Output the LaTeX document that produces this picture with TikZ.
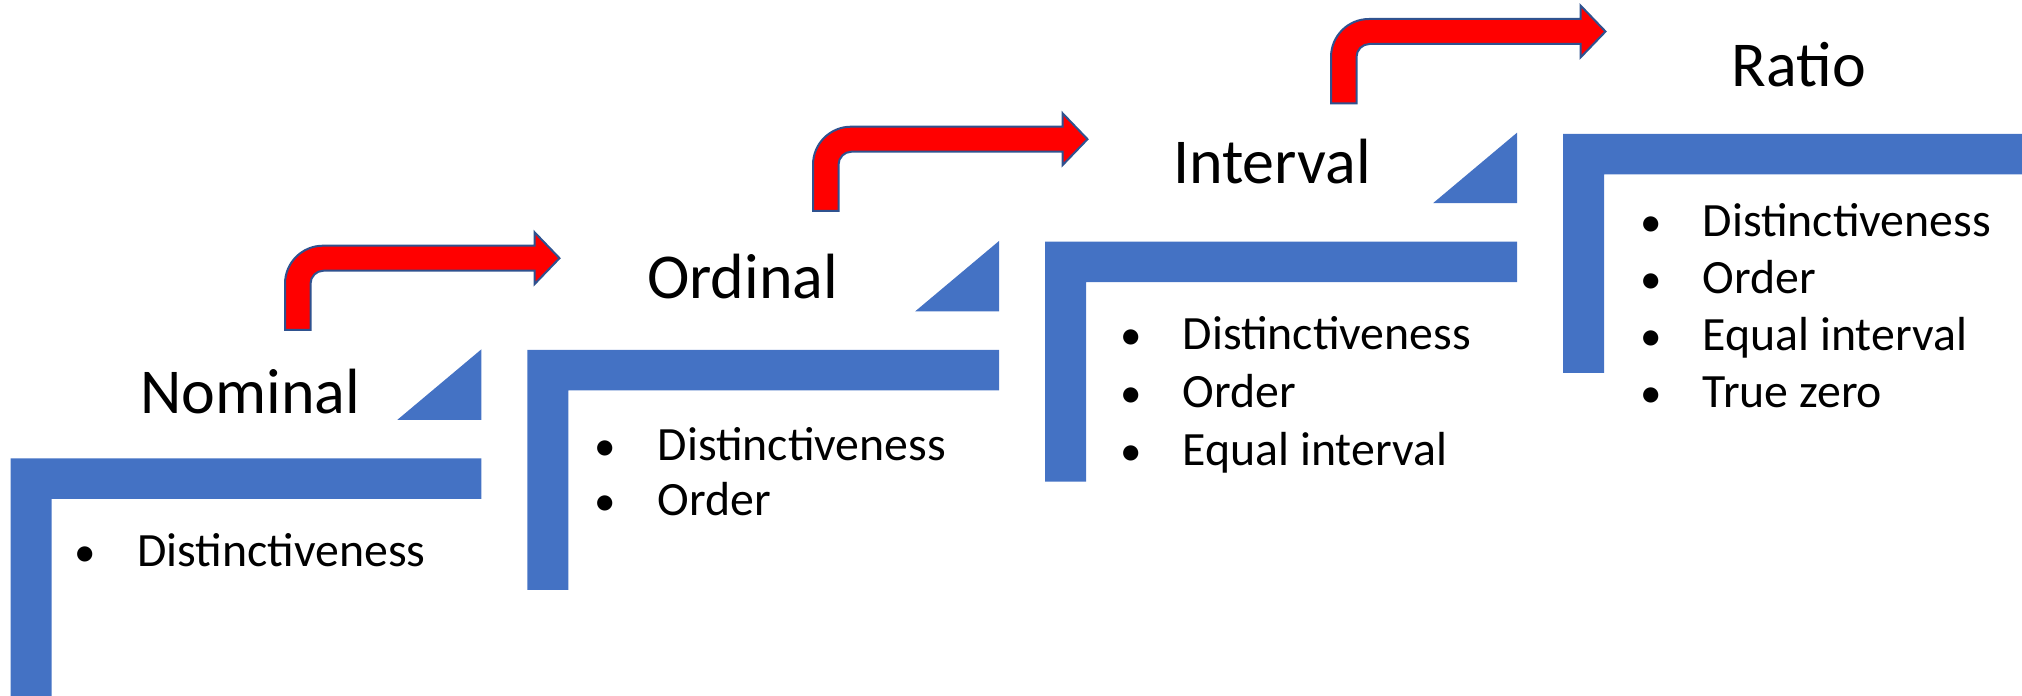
\documentclass[tikz,border=0pt]{standalone}
\usepackage{fontspec}
\setmainfont{Carlito}
\definecolor{stepfill}{HTML}{4472C4}
\definecolor{arrowred}{HTML}{FF0000}
\definecolor{arrowedge}{HTML}{2F528F}
% bullet glyph centred on the node's west edge, followed by the item text
\newcommand{\blt}{\makebox[0pt]{\scalebox{0.9}{•}}\hspace{5.2mm}}
\begin{document}
\begin{tikzpicture}[x=0.1mm, y=-0.1mm,
  stepshape/.style={fill=stepfill, draw=none},
  leveltitle/.style={anchor=base, inner sep=0pt, font=\fontsize{18.2}{22}\selectfont},
  levelitem/.style={anchor=base west, inner sep=0pt, font=\fontsize{13.6}{16}\selectfont},
  arrowbody/.style={fill=arrowred, draw=arrowedge, line width=0.2mm, line join=miter},
  bentarrow/.pic={
    \filldraw[arrowbody] (0,0) -- (0,-46.3)
      arc[start angle=180, end angle=270, radius=38]
      -- (249.5,-84.3) -- (249.5,-97.8) -- (274.5,-71.8) -- (249.5,-45.8)
      -- (249.5,-59.3) -- (38.5,-59.3)
      arc[start angle=270, end angle=180, radius=13]
      -- (25.5,0) -- cycle;
  }]
\useasboundingbox (0,0) rectangle (2022,696);
\clip (0,0) rectangle (2022,696);

% stair steps: an L-shaped bar per level
\foreach \lx/\ty/\rx/\by in {10.7/458.3/481.4/720, 527.3/350/999/590,
                              1045/241.7/1517/481.7, 1563/134/2040/373}{
  \fill[stepshape] (\lx,\ty) -- (\rx,\ty) -- (\rx,\ty+40.5) -- (\lx+41,\ty+40.5)
    -- (\lx+41,\by) -- (\lx,\by) -- cycle;
}
% small wedges at the front edge of the three lower steps
\foreach \ty/\rx in {458.3/481.4, 350/999, 241.7/1517}{
  \fill[stepshape] (\rx,\ty-109) -- (\rx,\ty-38.5) -- (\rx-84,\ty-38.5) -- cycle;
}

% bent arrows leading up to the next level
\pic (arrowA) at (285,330) {bentarrow};
\pic (arrowB) at (813,211) {bentarrow};
\pic (arrowC) at (1331,103.3) {bentarrow};

% level titles
\node[leveltitle] (nominal)  at (250.3,413.3) {Nominal};
\node[leveltitle] (ordinal)  at (742.5,298.3) {Ordinal};
\node[leveltitle] (interval) at (1272,183.3) {Interval};
\node[leveltitle] (ratio)    at (1798.8,86.7) {Ratio};

% properties of each level
\node[levelitem] (nomA) at (84.6,567) {\blt Distinctiveness};

\node[levelitem] (ordA) at (605,460.5) {\blt Distinctiveness};
\node[levelitem] (ordB) at (605,515.5) {\blt Order};

\node[levelitem] (intA) at (1130,349.8) {\blt Distinctiveness};
\node[levelitem] (intB) at (1130,407.8) {\blt Order};
\node[levelitem] (intC) at (1130,465.5) {\blt Equal interval};

\node[levelitem] (ratA) at (1650,236.5) {\blt Distinctiveness};
\node[levelitem] (ratB) at (1650,293.8) {\blt Order};
\node[levelitem] (ratC) at (1650,350.5) {\blt Equal interval};
\node[levelitem] (ratD) at (1650,407.8) {\blt True zero};
\end{tikzpicture}
\end{document}
